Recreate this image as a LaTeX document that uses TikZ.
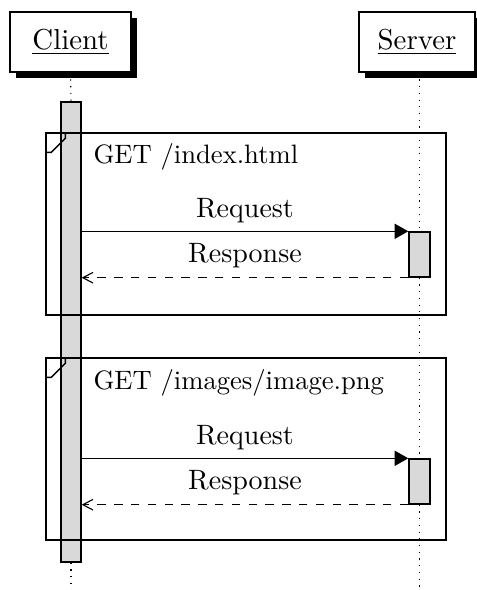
\documentclass[tikz,border=0pt]{standalone}
\usetikzlibrary{arrows.meta,shadows}
\begin{document}
\def\u{0.357pt}
\begin{tikzpicture}[x=0.357pt,y=-0.357pt,
  thread/.style={draw,fill=white,line width=0.5pt,minimum height=60*\u,inner sep=0pt,
    font=\fontsize{10.3}{12}\selectfont,
    drop shadow={shadow xshift=6*\u,shadow yshift=-6*\u,fill=black,opacity=1}},
  activity/.style={draw,fill=gray!30,line width=0.5pt,minimum width=20*\u,inner sep=0pt},
  lifeline/.style={dotted,line width=0.4pt},
  sdframe/.style={draw,line width=0.5pt,minimum width=400*\u,minimum height=182*\u,inner sep=0pt},
  call/.style={line width=0.5pt,-{Triangle[length=4.9pt,width=5.4pt]}},
  reply/.style={line width=0.4pt,dashed,-{Straight Barb[length=3.6pt,width=3.8pt]}},
  msglabel/.style={anchor=base,inner sep=0pt},
  framelabel/.style={anchor=base west,inner sep=0pt,font=\fontsize{9.5}{11}\selectfont}]
\useasboundingbox (0,0) rectangle (477,590);
\clip (0,0) rectangle (477,590);

% participants
\node[thread,minimum width=121*\u] (client) at (70.5,42) {\underline{Client}};
\node[thread,minimum width=116*\u] (server) at (417,42) {\underline{Server}};

% activation bars
\node[activity,minimum height=460*\u] (cact) at (71,332) {};
\node[activity,minimum width=21*\u,minimum height=45*\u] (sact1) at (419.5,254.5) {};
\node[activity,minimum width=21*\u,minimum height=45*\u] (sact2) at (419.5,481.5) {};

\coordinate (cend) at (71,590);
\coordinate (send) at (419.5,590);

% lifelines
\draw[lifeline] (client.south) -- (cact.north);
\draw[lifeline] (cact.south) -- (cend);
\draw[lifeline] (server.south -| sact1.north) -- (sact1.north);
\draw[lifeline] (sact1.south) -- (sact2.north);
\draw[lifeline] (sact2.south) -- (send);

% redraw the bars above the lifelines
\node[activity,minimum height=460*\u] at (cact) {};
\node[activity,minimum width=21*\u,minimum height=45*\u] at (sact1) {};
\node[activity,minimum width=21*\u,minimum height=45*\u] at (sact2) {};

% combined fragments
\node[sdframe] (frameA) at (246,224) {};
\node[sdframe] (frameB) at (246,449) {};
\foreach \f in {frameA,frameB}{
  \draw[line width=0.5pt] ([yshift=-20*\u]\f.north west) -- ++(6,0) -- ++(14,-14) -- ([xshift=20*\u]\f.north west);
}
\node[framelabel] (labelA) at (93,163) {GET /index.html};
\node[framelabel] (labelB) at (93,389) {GET /images/image.png};

% messages
\draw[call] (cact.east |- sact1.north west) -- (sact1.north west);
\draw[reply] (sact1.south west) -- (cact.east |- sact1.south west);
\node[msglabel] (reqA) at (245,217) {Request};
\node[msglabel] (resA) at (245,262) {Response};

\draw[call] (cact.east |- sact2.north west) -- (sact2.north west);
\draw[reply] (sact2.south west) -- (cact.east |- sact2.south west);
\node[msglabel] (reqB) at (245,444) {Request};
\node[msglabel] (resB) at (245,489) {Response};
\end{tikzpicture}
\end{document}
